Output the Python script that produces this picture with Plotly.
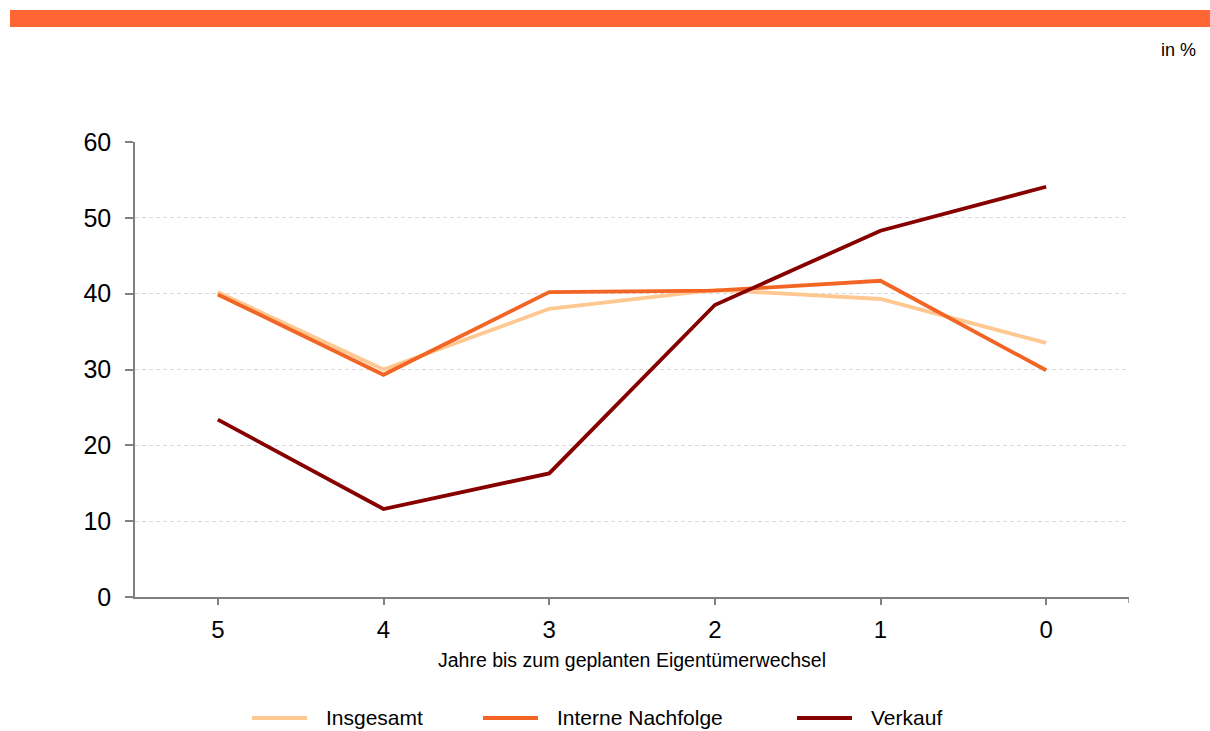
import plotly.graph_objects as go

categories = ["5", "4", "3", "2", "1", "0"]
insgesamt = [40.2, 30.0, 38.0, 40.5, 39.3, 33.5]
interne = [39.9, 29.3, 40.2, 40.4, 41.7, 29.9]
verkauf = [23.4, 11.6, 16.3, 38.5, 48.3, 54.1]
y_ticks = [0, 10, 20, 30, 40, 50, 60]

series_names = ["Insgesamt", "Interne Nachfolge", "Verkauf"]
series_colors = ["#FFC891", "#F26524", "#870000"]
series_values = [insgesamt, interne, verkauf]

xs = list(range(len(categories)))

fig = go.Figure()
for name, vals, col in zip(series_names, series_values, series_colors):
    fig.add_trace(go.Scatter(x=xs, y=vals, name=name, mode="lines",
                             line=dict(color=col, width=3.8), showlegend=False))

L, R, T, B = 135, 81, 142, 134
W, H = 1210, 731
pw, ph = W - L - R, H - T - B

def px(x):
    return (x - L) / pw

def py(y):
    return (H - B - y) / ph

fig.update_layout(
    width=W, height=H,
    margin=dict(l=L, r=R, t=T, b=B, autoexpand=False),
    paper_bgcolor="white", plot_bgcolor="white",
    font=dict(family="Liberation Sans, Arial, sans-serif", color="#000000"),
    showlegend=False,
    xaxis=dict(range=[-0.5, 5.5], tickmode="array", tickvals=xs, ticktext=categories,
               showgrid=False, zeroline=False, showline=True, linecolor="#808080", linewidth=1.5,
               ticks="outside", ticklen=6, tickcolor="#808080", tickwidth=1.5,
               tickfont=dict(size=24), ticklabelstandoff=4, automargin=False),
    yaxis=dict(range=[0, 60], tickmode="array", tickvals=y_ticks,
               showgrid=True, gridcolor="#D9D9D9", griddash="4px,3px", gridwidth=1,
               zeroline=False, showline=True, linecolor="#808080", linewidth=1.5,
               ticks="outside", ticklen=8, tickcolor="#808080", tickwidth=1.5,
               tickfont=dict(size=25), ticklabelstandoff=9, automargin=False),
)

# top orange band
fig.add_shape(type="rect", xref="paper", yref="paper",
              x0=px(10), x1=px(1212), y0=py(27), y1=py(10),
              fillcolor="#FF6633", line=dict(width=0), layer="above")
# right end tick on x axis
fig.add_shape(type="line", xref="x", yref="paper", x0=5.5, x1=5.5,
              y0=0, y1=py(603), line=dict(color="#808080", width=1.5))

fig.add_annotation(text="in %", xref="paper", yref="paper", x=px(1198), y=py(50),
                   xanchor="right", yanchor="middle", showarrow=False,
                   font=dict(size=18, color="#000000"))
fig.add_annotation(text="Jahre bis zum geplanten Eigentümerwechsel", xref="paper", yref="paper",
                   x=px(632), y=py(660), xanchor="center", yanchor="middle", showarrow=False,
                   font=dict(size=19.5, color="#000000"))

# legend (drawn manually to match sample length)
legend_x = [252, 483, 797]
legend_y = 717
for name, col, lx in zip(series_names, series_colors, legend_x):
    fig.add_shape(type="line", xref="paper", yref="paper",
                  x0=px(lx), x1=px(lx + 55), y0=py(legend_y + 1), y1=py(legend_y + 1),
                  line=dict(color=col, width=4))
    fig.add_annotation(text=name, xref="paper", yref="paper", x=px(lx + 72), y=py(legend_y),
                       xanchor="left", yanchor="middle", showarrow=False,
                       font=dict(size=21, color="#000000"))

fig.write_html("out.html", config={"displayModeBar": False},
               post_script="document.body.style.margin='0px';")
